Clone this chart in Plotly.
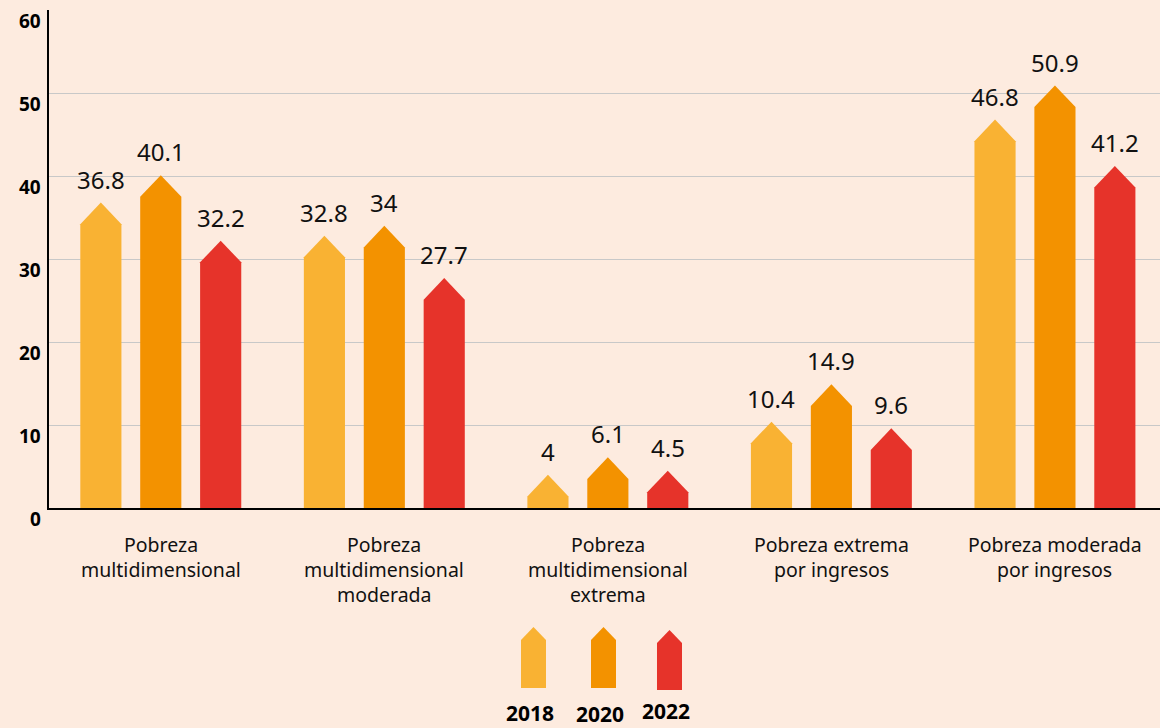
import plotly.graph_objects as go

categories = [
    "Pobreza\nmultidimensional",
    "Pobreza\nmultidimensional\nmoderada",
    "Pobreza\nmultidimensional\nextrema",
    "Pobreza extrema\npor ingresos",
    "Pobreza moderada\npor ingresos",
]
years = ["2018", "2020", "2022"]
values_2018 = [36.8, 32.8, 4, 10.4, 46.8]
values_2020 = [40.1, 34, 6.1, 14.9, 50.9]
values_2022 = [32.2, 27.7, 4.5, 9.6, 41.2]
colors = ["#F9B233", "#F39200", "#E6332A"]
y_ticks = [0, 10, 20, 30, 40, 50, 60]

series = [values_2018, values_2020, values_2022]

W, H = 1160, 728
ML, MT, MB = 49, 10, 220
PW = W - ML
PH = H - MT - MB
XR = [-0.5, 4.47]
YR = [0, 60]

BG = "#FDEBDF"
FONT = "Noto Sans"

offset = 0.268
half_w = 0.092
head = 2.6

fig = go.Figure()

for s, (vals, col) in enumerate(zip(series, colors)):
    for i, v in enumerate(vals):
        xc = i + (s - 1) * offset
        xs = [xc - half_w, xc - half_w, xc, xc + half_w, xc + half_w, xc - half_w]
        ys = [0, v - head, v, v - head, 0, 0]
        fig.add_trace(go.Scatter(
            x=xs, y=ys, mode="lines", fill="toself", fillcolor=col,
            line=dict(width=0, color=col), hoverinfo="skip", showlegend=False,
        ))
        fig.add_annotation(
            x=xc, y=v, xref="x", yref="y", text=f"{v:g}", showarrow=False,
            yanchor="bottom", yshift=5,
            font=dict(family=FONT, size=24, color="#111111"),
        )

# y tick labels (shifted slightly below their gridlines, as in the reference)
for t in y_ticks:
    fig.add_annotation(
        x=0, y=t, xref="paper", yref="y", text=f"<b>{t}</b>", showarrow=False,
        xanchor="right", yanchor="middle", xshift=-6, yshift=-11,
        font=dict(family=FONT, size=19, color="#000000"),
    )

# category labels (line by line)
for i, cat in enumerate(categories):
    for j, line in enumerate(cat.split("\n")):
        fig.add_annotation(
            x=i, y=0, xref="x", yref="y", text=line, showarrow=False,
            yanchor="middle", yshift=-36 - 25 * j,
            font=dict(family=FONT, size=19.5, color="#111111"),
        )

# custom legend below the chart
def px_to_paper(px, py):
    return (px - ML) / PW, (H - MB - py) / PH

legend_px = [(533.5, 627, 688, 713), (603.5, 627, 688, 714), (669.5, 630, 690, 711)]
for (cx, top, bot, ly), col, yr in zip(legend_px, colors, years):
    hw = 12.5
    hh = 13
    pts = [(cx - hw, bot), (cx - hw, top + hh), (cx, top), (cx + hw, top + hh), (cx + hw, bot)]
    pp = [px_to_paper(a, b) for a, b in pts]
    path = "M " + " L ".join(f"{a:.5f},{b:.5f}" for a, b in pp) + " Z"
    fig.add_shape(type="path", path=path, xref="paper", yref="paper",
                  fillcolor=col, line=dict(width=0), layer="above")
    lx, lyp = px_to_paper(cx - 4, ly)
    fig.add_annotation(
        x=lx, y=lyp, xref="paper", yref="paper", text=f"<b>{yr}</b>",
        showarrow=False, yanchor="middle", xanchor="center",
        font=dict(family=FONT, size=21, color="#000000"),
    )

fig.update_layout(
    width=W, height=H,
    margin=dict(l=ML, r=0, t=MT, b=MB, autoexpand=False),
    paper_bgcolor=BG, plot_bgcolor=BG,
    showlegend=False,
    xaxis=dict(range=XR, showgrid=False, zeroline=False, showticklabels=False,
               showline=True, linecolor="#000000", linewidth=2, fixedrange=True,
               automargin=False),
    yaxis=dict(range=YR, tickvals=y_ticks, showgrid=True, gridcolor="#C8C8C8",
               gridwidth=1, zeroline=False, showline=True, linecolor="#000000",
               linewidth=2, ticks="", showticklabels=False, fixedrange=True,
               automargin=False),
)

fig.write_html(
    "out.html",
    config={"displayModeBar": False},
    post_script="document.body.style.margin='0';document.body.style.overflow='hidden';"
                "document.body.style.background='#FDEBDF';",
)
